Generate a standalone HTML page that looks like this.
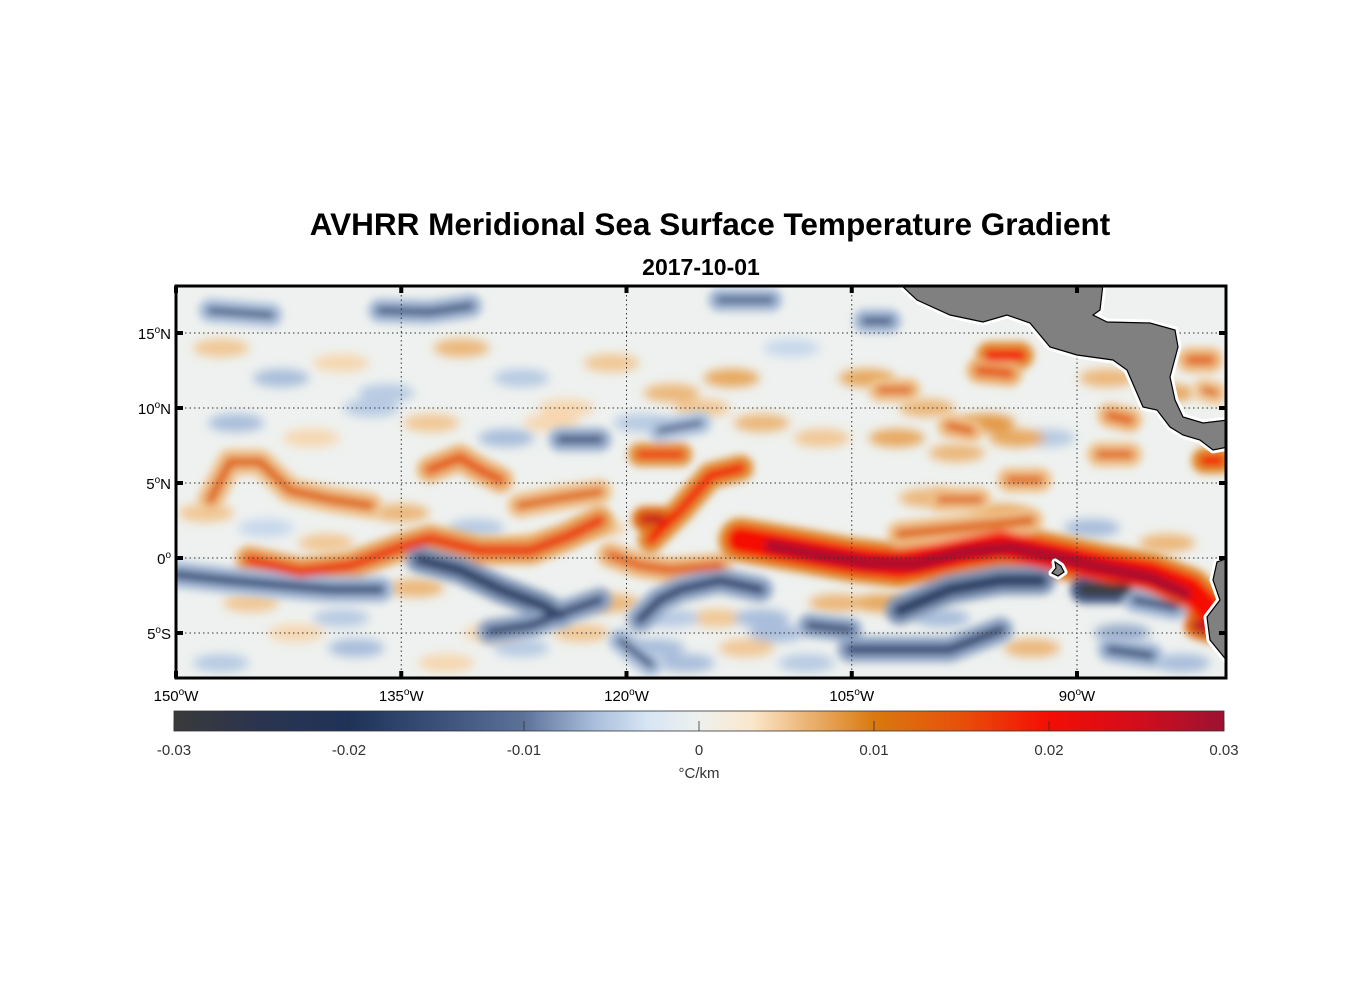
<!DOCTYPE html>
<html><head><meta charset="utf-8"><style>
body{margin:0;background:#fff;}
svg{display:block;font-family:"Liberation Sans",sans-serif;}
</style></head><body>
<svg id="fig" width="1356" height="1000" viewBox="0 0 1356 1000">
<defs>
<clipPath id="mapclip"><rect x="176" y="286" width="1050" height="392"/></clipPath>
<filter id="blur" x="-20%" y="-20%" width="140%" height="140%"><feGaussianBlur stdDeviation="4"/></filter>
<filter id="blur2" x="-50%" y="-50%" width="200%" height="200%"><feGaussianBlur stdDeviation="5"/></filter>
<linearGradient id="cbgrad" x1="0" x2="1" y1="0" y2="0"></linearGradient>
</defs>
<text x="710" y="235" text-anchor="middle" font-size="31.5" font-weight="bold">AVHRR Meridional Sea Surface Temperature Gradient</text>
<text x="701" y="275" text-anchor="middle" font-size="23" font-weight="bold">2017-10-01</text>
<g clip-path="url(#mapclip)">
<rect x="176" y="286" width="1050" height="392" fill="#eef1ef"/>
<g id="texture" filter="url(#blur2)"></g>
<g id="features" filter="url(#blur)"></g>
<g id="grid"></g>
<g id="land"></g>
</g>
<rect x="176" y="286" width="1050" height="392" fill="none" stroke="#000" stroke-width="3"/>
<g id="axes"></g>
<rect id="cbar" x="174" y="711" width="1050" height="20" fill="url(#cbgrad)" stroke="#333" stroke-width="0.8"/>
<g id="cbaxis"></g>
<text x="699" y="778" text-anchor="middle" font-size="15" fill="#333">°C/km</text>
</svg>
<script>
// ---- data ----
const lonTicks = [-150, -135, -120, -105, -90];
const lonLabels = ["150", "135", "120", "105", "90"];
const latTicks = [15, 10, 5, 0, -5];
const latLabels = ["15", "10", "5", "0", "5"];
const latHemi = ["N", "N", "N", "", "S"];
const cbTicks = [-0.03, -0.02, -0.01, 0, 0.01, 0.02, 0.03];
const cbLabels = ["-0.03", "-0.02", "-0.01", "0", "0.01", "0.02", "0.03"];
const cmapVals = [-0.03, -0.025, -0.02, -0.015, -0.01, -0.006, -0.003, 0, 0.003, 0.006, 0.01, 0.015, 0.02, 0.025, 0.03];
const cmapCols = ["#3a3a3a", "#2a3450", "#1f3358", "#3a5078", "#5d7299", "#a9bedb", "#d6e5f4", "#eef1ef", "#fbe7cc", "#ecb77a", "#d9790f", "#e8500a", "#f40d04", "#d30d1c", "#9c1232"];
// faint background blobs
const blobLon = [-147,-143,-139,-136,-131,-127,-124,-121,-117,-113,-109,-104,-100,-96,-92,-88,-84,-146,-141,-137,-133,-128,-125,-119,-115,-111,-107,-102,-98,-94,-148,-144,-140,-135,-130,-126,-122,-118,-114,-110,-106,-147,-142,-138,-132,-127,-123,-116,-112,-108,-103,-99,-93,-87,-83,-145,-139,-134,-129,-121,-117,-111,-100,-95,-89,-84];
const blobLat = [14,12,13,11,14,12,10,13,11,12,14,12,10,9,8,12,11,9,8,10,9,8,9,9,10,9,8,8,7,8,3,2,1,3,2,1,2,-6,-4,-5,-3,-7,-5,-6,-7,-6,-5,-7,-6,-7,-3,-4,-6,-5,-7,-3,-4,-2,-5,-3,-4,-4,4,3,2,1];
const blobVal = [0.005,-0.006,0.004,-0.005,0.006,-0.005,0.004,0.005,0.006,0.007,-0.004,0.007,0.006,0.008,-0.005,0.006,0.007,-0.006,0.004,-0.005,0.005,-0.006,0.004,-0.005,0.005,0.006,0.005,0.007,0.006,0.007,0.005,-0.004,0.005,0.006,-0.005,0.004,0.005,-0.006,0.005,-0.006,0.006,-0.005,0.004,-0.006,0.004,-0.005,0.005,-0.006,0.005,-0.005,0.007,-0.006,0.006,-0.007,-0.006,0.005,-0.005,0.006,0.004,0.006,-0.005,-0.006,0.006,0.007,-0.006,0.006];
// features: lon/lat polylines with gradient value (°C/km)
const featLon = [
 [-145.1,-141.7,-138.4,-135.1,-133.1,-129.8,-126.4,-123.8,-121.8],
 [-147.7,-146.4,-144.4,-142.4,-139.7,-137.1],
 [-133.1,-131.1,-129.8,-128.4],
 [-127.1,-124.4,-121.8],
 [-119.1,-116.4],
 [-118.4,-116.4,-114.4,-112.4],
 [-121.1,-119.1,-117.1,-113.8],
 [-112.4,-108.4,-105.1,-101.8,-98.5,-95.1,-91.8,-88.5,-85.1,-82.5,-81.1],
 [-101.8,-97.8,-93.1],
 [-150,-146.4,-143.1,-139.7,-136.4],
 [-133.8,-131.1,-128.4,-125.8,-124.4],
 [-129.1,-126.4,-123.8,-121.8],
 [-119.1,-117.8,-116.4,-113.8,-111.1],
 [-120.4,-118.4],
 [-101.8,-98.5,-95.1,-92.4],
 [-105.1,-101.8,-98.5,-95.1],
 [-107.8,-105.1],
 [-89.5,-86.8],
 [-86.1,-83.5],
 [-87.8,-85.1],
 [-147.7,-143.7],
 [-136.4,-133.1,-130.4],
 [-124.4,-121.8],
 [-113.8,-110.4],
 [-117.8,-115.1],
 [-95.8,-93.8],
 [-96.5,-94.5],
 [-87.8,-86.5],
 [-82.5,-81.1],
 [-81.5,-80.5],
 [-98.5,-97.1],
 [-103.1,-101.2],
 [-88.5,-86.5],
 [-94.5,-92.5],
 [-81.5,-80.8],
 [-99.1,-96.5],
 [-104.1,-102.5],
 [-110.4,-107.1,-104.1,-100.8,-97.5,-94.5,-91.5,-88.5,-85.1,-82.8],
 [-118.8,-117.8],
 [-82.0,-81.0]
];
const featLat = [
 [-0.13,-0.9,-0.5,0.7,1.3,0.5,0.5,1.5,2.5],
 [3.9,6.4,6.4,4.5,3.9,3.5],
 [5.9,6.7,5.9,5.2],
 [3.5,4,4.4],
 [6.9,6.9],
 [1.2,3.2,5.5,6],
 [0.2,-0.5,-0.8,-0.5],
 [1.2,0.5,-0.1,-0.5,0.2,0.9,0.2,-0.5,-1.1,-2.1,-3.5],
 [1.6,2,2.5],
 [-1.1,-1.5,-1.8,-2.1,-2.1],
 [-0.1,-0.8,-2.1,-3.1,-3.8],
 [-4.9,-4.5,-3.5,-2.8],
 [-4.1,-2.8,-2.1,-1.5,-2.1],
 [-5.5,-7.1],
 [-3.5,-2.1,-1.5,-1.5],
 [-6.1,-6.1,-6.1,-4.8],
 [-4.5,-4.8],
 [-2.1,-2.1],
 [-2.8,-3.3],
 [-6.1,-6.5],
 [16.5,16.2],
 [16.5,16.4,16.8],
 [7.9,7.9],
 [17.2,17.2],
 [8.5,9.0],
 [13.5,13.5],
 [12.5,12.3],
 [9.5,9.2],
 [13.2,13.2],
 [6.5,6.5],
 [8.8,8.5],
 [11.2,11.2],
 [6.9,6.9],
 [5.2,5.2],
 [11.2,11.0],
 [3.9,3.9],
 [15.8,15.8],
 [0.8,0.2,-0.3,-0.4,0.4,0.7,0.1,-0.6,-1.3,-2.4],
 [2.6,2.6],
 [-4.5,-4.8]
];
const featVal = [0.016,0.012,0.014,0.012,0.018,0.019,0.013,0.02,0.012,-0.014,-0.018,-0.016,-0.016,-0.013,-0.018,-0.016,-0.016,-0.03,-0.014,-0.014,-0.013,-0.014,-0.015,-0.014,-0.012,0.019,0.014,0.013,0.013,0.02,0.012,0.012,0.012,0.012,0.011,0.012,-0.014,0.029,0.026,0.027];
const featWidth = [12,10,10,9,8,10,9,28,10,10,11,9,10,8,13,10,8,12,9,9,8,8,8,7,7,12,10,9,9,10,9,8,9,9,8,8,8,12,9,10];

// ---- helpers ----
const NS = "http://www.w3.org/2000/svg";
const X = lon => 176 + (lon + 150) * (901 / 60);
const Y = lat => 558 - lat * 15;
const CBX = v => 174 + (v + 0.03) / 0.06 * 1050;
function hex(c){return [1,3,5].map(i=>parseInt(c.substr(i,2),16));}
function color(v){
  if (v <= cmapVals[0]) return cmapCols[0];
  for (let i = 1; i < cmapVals.length; i++) {
    if (v <= cmapVals[i]) {
      const t = (v - cmapVals[i-1]) / (cmapVals[i] - cmapVals[i-1]);
      const a = hex(cmapCols[i-1]), b = hex(cmapCols[i]);
      return "rgb(" + a.map((x,k)=>Math.round(x + (b[k]-x)*t)).join(",") + ")";
    }
  }
  return cmapCols[cmapCols.length-1];
}
function mk(tag, attrs, parent){const e=document.createElementNS(NS,tag);for(const k in attrs)e.setAttribute(k,attrs[k]);parent.appendChild(e);return e;}

// colorbar gradient
const grad = document.getElementById("cbgrad");
cmapVals.forEach((v,i)=>{mk("stop",{offset:((v+0.03)/0.06*100)+"%","stop-color":cmapCols[i]},grad);});

// texture blobs
const tg = document.getElementById("texture");
blobLon.forEach((lo,i)=>{
  const b = mk("ellipse",{cx:X(lo),cy:Y(blobLat[i]),rx:28,ry:9,fill:color(blobVal[i])},tg);
  
  
});

// features
const fg = document.getElementById("features");
featLon.forEach((lons,i)=>{
  const pts = lons.map((lo,j)=>X(lo).toFixed(1)+","+Y(featLat[i][j]).toFixed(1)).join(" ");
  const halo = mk("polyline",{points:pts,fill:"none",stroke:color(featVal[i]*0.45),"stroke-width":featWidth[i]+16,"stroke-linecap":"round","stroke-linejoin":"round"},fg);
  
  
});
featLon.forEach((lons,i)=>{
  const pts = lons.map((lo,j)=>X(lo).toFixed(1)+","+Y(featLat[i][j]).toFixed(1)).join(" ");
  const core = mk("polyline",{points:pts,fill:"none",stroke:color(featVal[i]),"stroke-width":featWidth[i],"stroke-linecap":"round","stroke-linejoin":"round"},fg);
  
  
});

// grid
const gg = document.getElementById("grid");
lonTicks.forEach(lo=>{
  const l = mk("line",{x1:X(lo),x2:X(lo),y1:286,y2:678,stroke:"#333","stroke-width":1,"stroke-dasharray":"1.5,3"},gg);
  
  
});
latTicks.forEach(la=>{
  const l = mk("line",{x1:176,x2:1226,y1:Y(la),y2:Y(la),stroke:"#333","stroke-width":1,"stroke-dasharray":"1.5,3"},gg);
  
  
});

// land
const lg = document.getElementById("land");
const landPolys = [
 "900,284 1103,284 1100,310 1093,315 1107,322 1150,323 1175,330 1178,347 1170,377 1175,400 1183,417 1203,423 1228,420 1228,447 1213,450 1200,440 1183,435 1170,427 1157,410 1143,407 1127,370 1113,360 1077,355 1050,347 1030,323 1007,315 983,322 950,315 917,300",
 "1228,558 1217,562 1213,580 1220,600 1207,617 1210,640 1228,662",
 "1055,562 1061,566 1064,572 1058,576 1052,573 1056,568"
];
landPolys.forEach(p=>{
  const w = mk("polygon",{points:p,fill:"none",stroke:"#fff","stroke-width":7,"stroke-linejoin":"round"},lg);
  
  
});
landPolys.forEach(p=>{
  const e = mk("polygon",{points:p,fill:"#808080",stroke:"#000","stroke-width":1.2},lg);
  
  
});

// axes ticks and labels
const ag = document.getElementById("axes");
lonTicks.forEach((lo,i)=>{
  const x = X(lo);
  [[286,293],[671,678]].forEach(([a,b])=>{
    const t = mk("line",{x1:x,x2:x,y1:a,y2:b,stroke:"#000","stroke-width":4},ag);
    
    
  });
  const tx = mk("text",{x:x,y:701,"text-anchor":"middle","font-size":15},ag);
  
  
  tx.innerHTML = lonLabels[i] + '<tspan dy="-6" font-size="10">o</tspan><tspan dy="6">W</tspan>';
});
latTicks.forEach((la,i)=>{
  const y = Y(la);
  [[176,183],[1219,1226]].forEach(([a,b])=>{
    const t = mk("line",{x1:a,x2:b,y1:y,y2:y,stroke:"#000","stroke-width":4},ag);
    
    
  });
  const tx = mk("text",{x:171,y:y+6,"text-anchor":"end","font-size":15},ag);
  
  
  tx.innerHTML = latLabels[i] + '<tspan dy="-6" font-size="10">o</tspan><tspan dy="6">' + latHemi[i] + '</tspan>';
});

// colorbar ticks
const cg = document.getElementById("cbaxis");
cbTicks.forEach((v,i)=>{
  const x = CBX(v);
  const t = mk("line",{x1:x,x2:x,y1:721,y2:731,stroke:"#333","stroke-width":0.8},cg);
  
  
  const tx = mk("text",{x:x,y:755,"text-anchor":"middle","font-size":15,fill:"#333"},cg);
  
  
  tx.textContent = cbLabels[i];
});
</script>
</body></html>
